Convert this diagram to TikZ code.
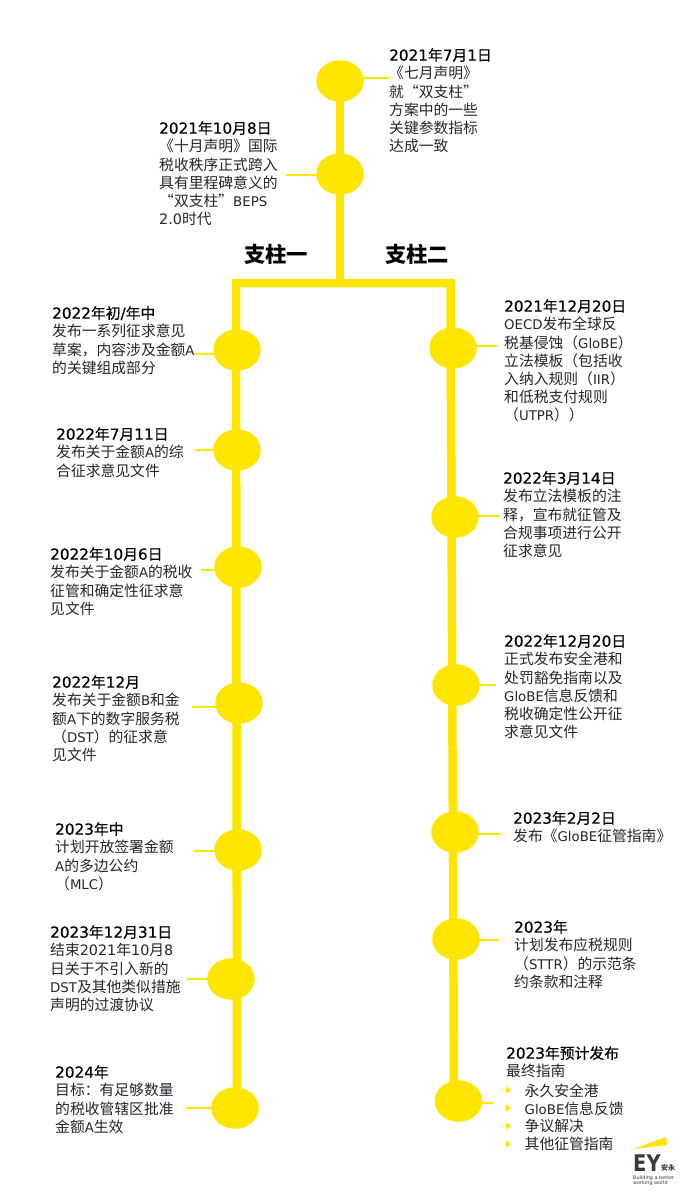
\documentclass[tikz,border=0pt]{standalone}
\usepackage{fontspec}
\setmainfont{Noto Sans CJK SC}
\newfontfamily\latbody[Scale=0.9]{DejaVu Sans}
\newfontfamily\numbody[Scale=0.97]{DejaVu Sans}
\newfontfamily\hdcjk[FakeBold=0.5]{Noto Sans CJK SC}
\newfontfamily\hdlat[Scale=1.03,FakeBold=0.5]{DejaVu Sans}
\newfontfamily\logofont{DejaVu Sans}
\newcommand\lat[1]{{\latbody #1}}
\newcommand\nm[1]{{\numbody #1}}
\newcommand\hd[1]{{\hdcjk\renewcommand\lat[1]{{\hdlat ##1}}\color{black}#1}}
\usetikzlibrary{shapes.geometric}
\definecolor{eyy}{HTML}{FFE600}
\definecolor{eyink}{HTML}{24242C}
\definecolor{eygrey}{HTML}{3A3A42}
\tikzset{
 spine/.style={draw=eyy,line width=8.5pt},
 leader/.style={draw=eyy,line width=1.1pt},
 dot/.style={ellipse,fill=eyy,draw=none,minimum width=47.5pt,minimum height=41.5pt,inner sep=0pt},
 block/.style={anchor=north west,align=left,inner sep=0pt,yshift=1pt,text=eyink,font=\fontsize{14.8}{18.2}\selectfont},
 pillar/.style={anchor=center,inner sep=0pt,text=black,font=\fontsize{21.3}{24}\selectfont\bfseries},
 bullet/.style={isosceles triangle,isosceles triangle apex angle=70,fill=eyy,draw=none,inner sep=0pt,minimum height=5pt,minimum width=5pt}
}
\begin{document}
\begin{tikzpicture}[x=1pt,y=-1pt]
\useasboundingbox (0,0) rectangle (700,1194);
% dots
\node[dot] (t1) at (340,81) {};
\node[dot] (t2) at (340,174) {};
\node[dot] (l1) at (237,350) {};
\node[dot] (l2) at (237,450) {};
\node[dot] (l3) at (238,567) {};
\node[dot] (l4) at (239,703) {};
\node[dot] (l5) at (238,850) {};
\node[dot] (l6) at (231,979) {};
\node[dot] (l7) at (235,1108) {};
\node[dot] (r1) at (453,348) {};
\node[dot] (r2) at (455,517) {};
\node[dot] (r3) at (456,685) {};
\node[dot] (r4) at (455,832) {};
\node[dot] (r5) at (456,939) {};
\node[dot] (r6) at (458.5,1101) {};
% spine
\coordinate (tee) at (340,283);
\coordinate (barL) at (236,283);
\coordinate (barR) at (450.5,283);
\coordinate (endL) at (237,1100);
\coordinate (endR) at (454,1095);
\draw[spine] (t1.center) -- (t2.center) -- (tee);
\draw[spine] (endL) -- (barL) -- (barR) -- (endR);
% texts
\node[block] (tt1) at (389,49) {\hd{\lat{2021}年\lat{7}月\lat{1}日}\\《七月声明》\\就“双支柱”\\方案中的一些\\关键参数指标\\达成一致};
\node[block] (tt2) at (159,122) {\hd{\lat{2021}年\lat{10}月\lat{8}日}\\《十月声明》国际\\税收秩序正式跨入\\具有里程碑意义的\\“双支柱”\lat{BEPS}\\\nm{2.0}时代};
\node[pillar] (p1) at (276,254) {支柱一};
\node[pillar] (p2) at (417,254) {支柱二};
\node[block] (tl1) at (52,307) {\hd{\lat{2022}年初\lat{/}年中}\\发布一系列征求意见\\草案，内容涉及金额\lat{A}\\的关键组成部分};
\node[block] (tl2) at (56,428) {\hd{\lat{2022}年\lat{7}月\lat{11}日}\\发布关于金额\lat{A}的综\\合征求意见文件};
\node[block] (tl3) at (50,548) {\hd{\lat{2022}年\lat{10}月\lat{6}日}\\发布关于金额\lat{A}的税收\\征管和确定性征求意\\见文件};
\node[block] (tl4) at (52,676) {\hd{\lat{2022}年\lat{12}月}\\发布关于金额\lat{B}和金\\额\lat{A}下的数字服务税\\（\lat{DST}）的征求意\\见文件};
\node[block] (tl5) at (55,823) {\hd{\lat{2023}年中}\\计划开放签署金额\\\lat{A}的多边公约\\（\lat{MLC}）};
\node[block] (tl6) at (50,926) {\hd{\lat{2023}年\lat{12}月\lat{31}日}\\结束\nm{2021}年\nm{10}月\nm{8}\\日关于不引入新的\\\lat{DST}及其他类似措施\\声明的过渡协议};
\node[block] (tl7) at (55,1066) {\hd{\lat{2024}年}\\目标：有足够数量\\的税收管辖区批准\\金额\lat{A}生效};
\node[block] (tr1) at (504,300) {\hd{\lat{2021}年\lat{12}月\lat{20}日}\\\lat{OECD}发布全球反\\税基侵蚀（\lat{GloBE}）\\立法模板（包括收\\入纳入规则（\lat{IIR}）\\和低税支付规则\\（\lat{UTPR}））};
\node[block] (tr2) at (503,472) {\hd{\lat{2022}年\lat{3}月\lat{14}日}\\发布立法模板的注\\释，宣布就征管及\\合规事项进行公开\\征求意见};
\node[block] (tr3) at (504,635) {\hd{\lat{2022}年\lat{12}月\lat{20}日}\\正式发布安全港和\\处罚豁免指南以及\\\lat{GloBE}信息反馈和\\税收确定性公开征\\求意见文件};
\node[block] (tr4) at (513,812) {\hd{\lat{2023}年\lat{2}月\lat{2}日}\\发布《\lat{GloBE}征管指南》};
\node[block] (tr5) at (514,921) {\hd{\lat{2023}年}\\计划发布应税规则\\（\lat{STTR}）的示范条\\约条款和注释};
\node[block] (tr6) at (506,1047) {\hd{\lat{2023}年预计发布}\\最终指南};
\node[block] (b1) at (524.5,1085) {永久安全港};
\node[block] (b2) at (524.5,1103) {\lat{GloBE}信息反馈};
\node[block] (b3) at (524.5,1120) {争议解决};
\node[block] (b4) at (524.5,1138) {其他征管指南};
\node[bullet] (m1) at (508,1090) {};
\node[bullet] (m2) at (508,1108) {};
\node[bullet] (m3) at (508,1126) {};
\node[bullet] (m4) at (508,1144) {};
% leaders
\coordinate (e1) at (389,78); \draw[leader] (t1.center |- e1) -- (e1);
\coordinate (e2) at (286,175); \draw[leader] (e2) -- (t2.center |- e2);
\coordinate (a1) at (195,354); \draw[leader] (a1) -- (l1.center |- a1);
\coordinate (a2) at (195,450); \draw[leader] (a2) -- (l2.center |- a2);
\coordinate (a3) at (201,570); \draw[leader] (a3) -- (l3.center |- a3);
\coordinate (a4) at (192,707); \draw[leader] (a4) -- (l4.center |- a4);
\coordinate (a5) at (194,851); \draw[leader] (a5) -- (l5.center |- a5);
\coordinate (a6) at (187,979); \draw[leader] (a6) -- (l6.center |- a6);
\coordinate (a7) at (186,1108); \draw[leader] (a7) -- (l7.center |- a7);
\coordinate (c1) at (497,346); \draw[leader] (r1.center |- c1) -- (c1);
\coordinate (c2) at (500,516); \draw[leader] (r2.center |- c2) -- (c2);
\coordinate (c3) at (496,685); \draw[leader] (r3.center |- c3) -- (c3);
\coordinate (c4) at (501,834); \draw[leader] (r4.center |- c4) -- (c4);
\coordinate (c5) at (499,940); \draw[leader] (r5.center |- c5) -- (c5);
\coordinate (c6) at (493,1103); \draw[leader] (r6.center |- c6) -- (c6);
% logo
\fill[eyy] (633,1149) -- (666,1137) -- (667,1145) -- cycle;
\node[anchor=north west,inner sep=0pt,text=eygrey,xscale=.85,font=\fontsize{23}{23}\logofont\bfseries] (ey) at (633,1155) {EY};
\node[anchor=north west,inner sep=0pt,text=eygrey,font=\fontsize{7}{8}\selectfont\bfseries] (an) at (661,1164) {安永};
\node[anchor=north west,align=left,inner sep=0pt,text=eygrey,font=\fontsize{4.9}{5.2}\logofont] (tag) at (633,1175.5) {Building a better\\working world};
\end{tikzpicture}
\end{document}
